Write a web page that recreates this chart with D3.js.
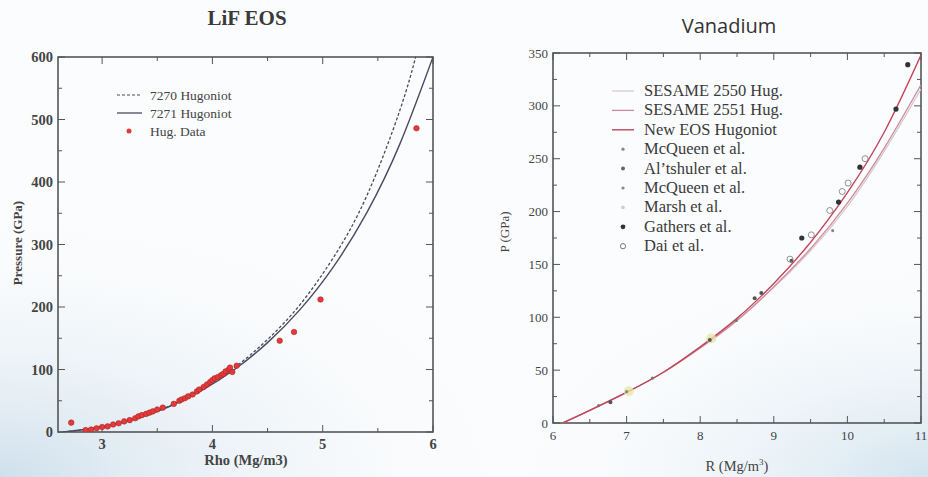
<!DOCTYPE html>
<html><head><meta charset="utf-8">
<script src="https://cdn.jsdelivr.net/npm/d3@7"></script>
<style>body{margin:0;background:#fff}svg{display:block}</style>
</head><body>
<script>
// ---------- LiF data ----------
const lifRho7270 = [2.65,3.0,3.3,3.6,3.9,4.2,4.5,4.8,5.1,5.4,5.7,5.85];
const lifP7270   = [0,8,21,41,68,103,148,205,280,378,515,605];
const lifRho7271 = [2.65,3.0,3.3,3.6,3.9,4.2,4.5,4.8,5.1,5.4,5.7,6.0];
const lifP7271   = [0,8,21,40,66,100,143,197,265,351,461,600];
const lifDataRho = [2.72,2.85,2.9,2.95,3.0,3.05,3.1,3.15,3.2,3.25,3.3,3.33,3.36,3.4,3.43,3.46,3.5,3.55,3.65,3.7,3.72,3.75,3.78,3.82,3.86,3.88,3.92,3.95,3.98,4.0,4.02,4.05,4.08,4.1,4.12,4.15,4.16,4.18,4.22,4.61,4.74,4.98,5.85];
const lifDataP   = [15,3,4,6,8,9,12,14,17,19,22,25,27,29,31,33,36,39,45,50,52,54,57,60,65,68,72,76,80,83,86,88,91,93,97,100,103,96,106,146,160,212,486];
const lifXTicks = [3,4,5,6];
const lifYTicks = [0,100,200,300,400,500,600];
const lifLegend = ["7270 Hugoniot","7271 Hugoniot","Hug. Data"];

// ---------- Vanadium data ----------
const vRhoNew  = [6.13,6.5,7.0,7.5,8.0,8.5,9.0,9.5,10.0,10.5,11.0];
const vPNew    = [0,12,29,48,72,99,132,171,218,275,348];
const vRho2551 = [6.13,6.5,7.0,7.5,8.0,8.5,9.0,9.5,10.0,10.5,11.0];
const vP2551   = [0,12,29,48,71,97,129,165,208,260,320];
const vRho2550 = [6.13,6.5,7.0,7.5,8.0,8.5,9.0,9.5,10.0,10.5,11.0];
const vP2550   = [0,12,29,48,71,97,128,163,205,257,316];
const mcq1Rho = [6.62,7.35,8.49], mcq1P = [16.4,42.5,97];
const altRho  = [6.78,8.13,8.74,8.83,9.24], altP = [19.6,78.5,118,123,153.5];
const mcq2Rho = [7.0,9.8], mcq2P = [29.6,182];
const marshRho = [7.03,8.15], marshP = [30,80];
const gathRho = [9.38,9.88,10.17,10.66,10.82], gathP = [175,209,242,297,339];
const daiRho  = [9.22,9.51,9.76,9.93,10.01,10.24], daiP = [155,178,201,219,227,250];
const vXTicks = [6,7,8,9,10,11];
const vYTicks = [0,50,100,150,200,250,300,350];
const vLegend = ["SESAME 2550 Hug.","SESAME 2551 Hug.","New EOS Hugoniot","McQueen et al.","Al’tshuler et al.","McQueen et al.","Marsh et al.","Gathers et al.","Dai et al."];

const W = 928, H = 477;
const svg = d3.select("body").append("svg").attr("width", W).attr("height", H);
const defs = svg.append("defs");
const g1 = defs.append("radialGradient").attr("id","bgl").attr("cx","0").attr("cy","1").attr("r","0.6");
g1.append("stop").attr("offset","0").attr("stop-color","#cfe0ec");
g1.append("stop").attr("offset","1").attr("stop-color","#ffffff").attr("stop-opacity","0");
const g2 = defs.append("radialGradient").attr("id","bgr").attr("cx","1").attr("cy","1").attr("r","0.5");
g2.append("stop").attr("offset","0").attr("stop-color","#d3e4ef");
g2.append("stop").attr("offset","1").attr("stop-color","#ffffff").attr("stop-opacity","0");
svg.append("rect").attr("width",W).attr("height",H).attr("fill","#fbfcfd");
svg.append("rect").attr("width",W).attr("height",H).attr("fill","url(#bgl)");
svg.append("rect").attr("width",W).attr("height",H).attr("fill","url(#bgr)");

const serif = "'Liberation Serif','Times New Roman',serif";
const frameCol = "#555";

function frame(x, y, xMinor, yMinor, xMajor, yMajor, majLen, minLen) {
  const [x0,x1] = x.range(), [y0,y1] = y.range();
  const g = svg.append("g");
  g.append("rect").attr("x",x0).attr("y",y1).attr("width",x1-x0).attr("height",y0-y1)
    .attr("fill","none").attr("stroke",frameCol).attr("stroke-width",1.6);
  const tick = (v,len,axis) => {
    if (axis==="x") {
      const px = x(v);
      g.append("line").attr("x1",px).attr("x2",px).attr("y1",y0).attr("y2",y0-len).attr("stroke",frameCol).attr("stroke-width",1);
      g.append("line").attr("x1",px).attr("x2",px).attr("y1",y1).attr("y2",y1+len).attr("stroke",frameCol).attr("stroke-width",1);
    } else {
      const py = y(v);
      g.append("line").attr("x1",x0).attr("x2",x0+len).attr("y1",py).attr("y2",py).attr("stroke",frameCol).attr("stroke-width",1);
      g.append("line").attr("x1",x1).attr("x2",x1-len).attr("y1",py).attr("y2",py).attr("stroke",frameCol).attr("stroke-width",1);
    }
  };
  xMajor.forEach(v=>tick(v,majLen,"x")); xMinor.forEach(v=>tick(v,minLen,"x"));
  yMajor.forEach(v=>tick(v,majLen,"y")); yMinor.forEach(v=>tick(v,minLen,"y"));
  return g;
}

// ================= LiF =================
{
  const x = d3.scaleLinear().domain([2.6,6]).range([58,433]);
  const y = d3.scaleLinear().domain([0,600]).range([432,57]);
  frame(x,y,[3.5,4.5,5.5],[50,150,250,350,450,550],lifXTicks,lifYTicks,7,4);
  const clip = defs.append("clipPath").attr("id","c1");
  clip.append("rect").attr("x",58).attr("y",57).attr("width",375).attr("height",375);
  const line = d3.line().x(d=>x(d[0])).y(d=>y(d[1])).curve(d3.curveNatural);
  const cg = svg.append("g").attr("clip-path","url(#c1)");
  cg.append("path").datum(d3.zip(lifRho7270,lifP7270)).attr("d",line).attr("fill","none")
    .attr("stroke","#4a4a5a").attr("stroke-width",1.3).attr("stroke-dasharray","3,2");
  cg.append("path").datum(d3.zip(lifRho7271,lifP7271)).attr("d",line).attr("fill","none")
    .attr("stroke","#4a4a62").attr("stroke-width",1.4);
  cg.selectAll("circle.d").data(d3.zip(lifDataRho,lifDataP)).join("circle")
    .attr("cx",d=>x(d[0])).attr("cy",d=>y(d[1])).attr("r",2.8)
    .attr("fill","#e23a3a").attr("stroke","#a02020").attr("stroke-width",0.5);
  const tl = svg.append("g").attr("font-family",serif).attr("font-size",14.5).attr("font-weight","bold").attr("fill","#444");
  tl.selectAll("text.x").data(lifXTicks).join("text").attr("x",d=>x(d)).attr("y",449).attr("text-anchor","middle").text(d=>d);
  tl.selectAll("text.y").data(lifYTicks).join("text").attr("x",53).attr("y",d=>y(d)+5).attr("text-anchor","end").text(d=>d);
  svg.append("text").attr("x",247).attr("y",25).attr("text-anchor","middle").attr("font-family",serif)
    .attr("font-size",21).attr("font-weight","bold").attr("fill","#3a3a3a").text("LiF EOS");
  svg.append("text").attr("x",246).attr("y",465).attr("text-anchor","middle").attr("font-family",serif)
    .attr("font-size",14.5).attr("font-weight","bold").attr("fill","#444").text("Rho (Mg/m3)");
  svg.append("text").attr("transform","translate(22,243) rotate(-90)").attr("text-anchor","middle").attr("font-family",serif)
    .attr("font-size",13).attr("font-weight","bold").attr("fill","#444").text("Pressure (GPa)");
  const lg = svg.append("g").attr("font-family",serif).attr("font-size",13.5).attr("fill","#444");
  const ly = [95,113,131];
  lg.append("line").attr("x1",117).attr("x2",142).attr("y1",ly[0]).attr("y2",ly[0]).attr("stroke","#4a4a5a").attr("stroke-width",1.2).attr("stroke-dasharray","3,2");
  lg.append("line").attr("x1",117).attr("x2",142).attr("y1",ly[1]).attr("y2",ly[1]).attr("stroke","#4a4a62").attr("stroke-width",1.3);
  lg.append("circle").attr("cx",129).attr("cy",ly[2]).attr("r",2.5).attr("fill","#e23a3a");
  lg.selectAll("text").data(lifLegend).join("text").attr("x",150).attr("y",(d,i)=>ly[i]+4.5).text(d=>d);
}

// ================= Vanadium =================
{
  const x = d3.scaleLinear().domain([6,11]).range([553,921]);
  const y = d3.scaleLinear().domain([0,350]).range([423,53]);
  frame(x,y,[6.5,7.5,8.5,9.5,10.5],[25,75,125,175,225,275,325],vXTicks,vYTicks,7,4);
  const clip = defs.append("clipPath").attr("id","c2");
  clip.append("rect").attr("x",553).attr("y",53).attr("width",368).attr("height",370);
  const line = d3.line().x(d=>x(d[0])).y(d=>y(d[1])).curve(d3.curveNatural);
  const cg = svg.append("g").attr("clip-path","url(#c2)");
  cg.append("path").datum(d3.zip(vRho2550,vP2550)).attr("d",line).attr("fill","none").attr("stroke","#d8c4ca").attr("stroke-width",1.2);
  cg.append("path").datum(d3.zip(vRho2551,vP2551)).attr("d",line).attr("fill","none").attr("stroke","#cc8c98").attr("stroke-width",1.3);
  cg.append("path").datum(d3.zip(vRhoNew,vPNew)).attr("d",line).attr("fill","none").attr("stroke","#c2455a").attr("stroke-width",1.4);
  const dots = (rs,ps,r,fill,stroke) => cg.append("g").selectAll("circle").data(d3.zip(rs,ps)).join("circle")
    .attr("cx",d=>x(d[0])).attr("cy",d=>y(d[1])).attr("r",r).attr("fill",fill).attr("stroke",stroke).attr("stroke-width",0.8);
  dots(marshRho,marshP,5,"#e8e6a8","none").attr("opacity",0.8);
  dots(mcq1Rho,mcq1P,1.6,"#777","none");
  dots(altRho,altP,2,"#555","none");
  dots(mcq2Rho,mcq2P,1.6,"#888","none");
  dots(gathRho,gathP,2.6,"#333","none");
  dots(daiRho,daiP,3,"none","#777");
  const tl = svg.append("g").attr("font-family",serif).attr("font-size",13).attr("fill","#444");
  tl.selectAll("text.x").data(vXTicks).join("text").attr("x",d=>x(d)).attr("y",440).attr("text-anchor","middle").text(d=>d);
  tl.selectAll("text.y").data(vYTicks).join("text").attr("x",548).attr("y",d=>y(d)+4.5).attr("text-anchor","end").text(d=>d);
  svg.append("text").attr("x",729).attr("y",33).attr("text-anchor","middle").attr("font-family","'Open Sans',sans-serif")
    .attr("font-size",20).attr("fill","#333").text("Vanadium");
  const xl = svg.append("text").attr("x",737).attr("y",471).attr("text-anchor","middle").attr("font-family",serif)
    .attr("font-size",14.5).attr("fill","#444");
  xl.append("tspan").text("R (Mg/m");
  xl.append("tspan").attr("dy",-6).attr("font-size",9).text("3");
  xl.append("tspan").attr("dy",6).text(")");
  svg.append("text").attr("transform","translate(509,232) rotate(-90)").attr("text-anchor","middle").attr("font-family",serif)
    .attr("font-size",13).attr("fill","#444").text("P (GPa)");
  const lg = svg.append("g").attr("font-family",serif).attr("font-size",16.5).attr("fill","#3a3a3a");
  const ly = vLegend.map((d,i)=>91+i*19.4);
  const lx1 = 612, lx2 = 634, mx = 623;
  lg.append("line").attr("x1",lx1).attr("x2",lx2).attr("y1",ly[0]).attr("y2",ly[0]).attr("stroke","#d8c4ca").attr("stroke-width",1.2);
  lg.append("line").attr("x1",lx1).attr("x2",lx2).attr("y1",ly[1]).attr("y2",ly[1]).attr("stroke","#cc8c98").attr("stroke-width",1.3);
  lg.append("line").attr("x1",lx1).attr("x2",lx2).attr("y1",ly[2]).attr("y2",ly[2]).attr("stroke","#c2455a").attr("stroke-width",1.4);
  lg.append("circle").attr("cx",mx).attr("cy",ly[3]).attr("r",1.6).attr("fill","#888");
  lg.append("circle").attr("cx",mx).attr("cy",ly[4]).attr("r",2).attr("fill","#666");
  lg.append("circle").attr("cx",mx).attr("cy",ly[5]).attr("r",1.6).attr("fill","#888");
  lg.append("circle").attr("cx",mx).attr("cy",ly[6]).attr("r",1.8).attr("fill","#ccc");
  lg.append("circle").attr("cx",mx).attr("cy",ly[7]).attr("r",2.4).attr("fill","#333");
  lg.append("circle").attr("cx",mx).attr("cy",ly[8]).attr("r",2.6).attr("fill","none").attr("stroke","#777");
  lg.selectAll("text").data(vLegend).join("text").attr("x",644).attr("y",(d,i)=>ly[i]+5).text(d=>d);
}
</script>
</body></html>
